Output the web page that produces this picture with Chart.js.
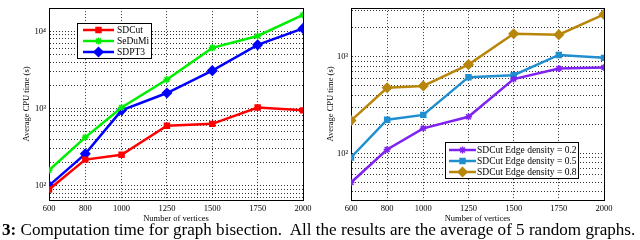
<!DOCTYPE html>
<html>
<head>
<meta charset="utf-8">
<script src="https://cdn.jsdelivr.net/npm/chart.js@4/dist/chart.umd.min.js"></script>
<style>
  body { margin: 0; background: #fff; width: 640px; height: 240px; overflow: hidden; position: relative; }
  .box { position: absolute; top: 0; width: 320px; height: 224px; }
  #caption {
    position: absolute; left: 2px; top: 220px; white-space: nowrap;
    font-family: "Liberation Serif", "DejaVu Serif", serif; font-size: 17.1px; color: #000;
  }
</style>
</head>
<body>
<div class="box" style="left:0"><canvas id="leftChart"></canvas></div>
<div class="box" style="left:320px"><canvas id="rightChart"></canvas></div>
<div id="caption"><b>3:</b> Computation time for graph bisection.&nbsp; All the results are the average of 5 random graphs.</div>
<script>
// vertices (x axis)
const vertices = [600, 800, 1000, 1250, 1500, 1750, 2000];
const xTicks = [600, 800, 1000, 1250, 1500, 1750, 2000];

// left: solvers
const sdcut = [89, 217, 251, 596, 631, 1030, 944];
const sedumi = [158, 422, 1030, 2370, 6100, 8700, 16300];
const sdpt3 = [100, 258, 944, 1585, 3090, 6680, 10900];

// right: SDCut with different edge density
const dens02 = [50, 110, 182, 240, 589, 759, 776];
const dens05 = [91, 224, 251, 617, 646, 1047, 977];
const dens08 = [219, 479, 501, 832, 1738, 1698, 2754];

const leftDecades = [100, 1000, 10000];
const rightDecades = [100, 1000];

const serif = "'Liberation Serif', 'DejaVu Serif', serif";
const sup = { "1": "\u00b9", "2": "\u00b2", "3": "\u00b3", "4": "\u2074" };

// minor grid positions 1..9 x 10^n inside [min, max]
function logTicks(min, max) {
  const out = [];
  for (let e = 0; e <= 5; e++) {
    for (let k = 1; k <= 9; k++) {
      const v = k * Math.pow(10, e);
      if (v >= min && v <= max) out.push(v);
    }
  }
  return out;
}

function makeSet(label, data, color, style, radius) {
  return {
    label: label,
    data: data.map((y, i) => ({ x: vertices[i], y: y })),
    borderColor: color,
    backgroundColor: color,
    borderWidth: 2.5,
    pointStyle: style,
    pointRadius: radius,
    pointBorderWidth: 1.5,
    pointBorderColor: color,
    pointBackgroundColor: color,
    tension: 0,
  };
}

// legend box drawn inside the plot
const boxLegend = {
  id: "boxLegend",
  afterDatasetsDraw(chart, args, opts) {
    const ctx = chart.ctx;
    ctx.save();
    ctx.fillStyle = "#fff";
    ctx.fillRect(opts.x, opts.y, opts.w, opts.h);
    ctx.strokeStyle = "#000";
    ctx.lineWidth = 1;
    ctx.strokeRect(opts.x + 0.5, opts.y + 0.5, opts.w, opts.h);
    ctx.font = opts.fontSize + "px " + serif;
    ctx.textBaseline = "middle";
    chart.data.datasets.forEach((ds, i) => {
      const yy = opts.y + opts.first + i * opts.step;
      ctx.strokeStyle = ds.borderColor;
      ctx.lineWidth = ds.borderWidth;
      ctx.beginPath();
      ctx.moveTo(opts.x + opts.lx0, yy);
      ctx.lineTo(opts.x + opts.lx1, yy);
      ctx.stroke();
      ctx.fillStyle = ds.borderColor;
      ctx.lineWidth = 1.5;
      Chart.helpers.drawPoint(ctx, { pointStyle: ds.pointStyle, radius: ds.pointRadius, rotation: 0, borderWidth: 1.5 },
        opts.x + (opts.lx0 + opts.lx1) / 2, yy);
      ctx.fillStyle = "#000";
      ctx.fillText(ds.label, opts.x + opts.tx, yy + 0.5);
    });
    ctx.restore();
  },
};

const frame = {
  id: "frame",
  beforeDatasetsDraw(chart) {
    const a = chart.chartArea;
    const ctx = chart.ctx;
    ctx.save();
    ctx.strokeStyle = "#000";
    ctx.lineWidth = 1;
    ctx.strokeRect(Math.round(a.left) + 0.5, Math.round(a.top) + 0.5, Math.round(a.right - a.left), Math.round(a.bottom - a.top));
    ctx.restore();
  },
};

function buildChart(id, datasets, yMin, yMax, decades, yWidth, titleShift, padRight, legendOpts) {
  const gridStyle = { color: "rgba(0,0,0,0.8)", lineWidth: 1, tickLength: 0 };
  const borderStyle = { display: true, color: "#000", width: 1, dash: [1, 2] };
  return new Chart(document.getElementById(id), {
    type: "line",
    data: { datasets: datasets },
    plugins: [frame, boxLegend],
    options: {
      responsive: true,
      maintainAspectRatio: false,
      animation: false,
      layout: { padding: { top: 2, right: padRight, left: 0, bottom: 0 } },
      plugins: {
        legend: { display: false },
        tooltip: { enabled: false },
        boxLegend: legendOpts,
      },
      scales: {
        x: {
          type: "linear",
          min: 600,
          max: 2000,
          afterBuildTicks: (s) => { s.ticks = xTicks.map((v) => ({ value: v })); },
          afterFit: (s) => { s.height = 24; },
          grid: gridStyle,
          border: borderStyle,
          ticks: {
            color: "#000", font: { family: serif, size: 8.5 }, padding: 4, maxRotation: 0,
            callback: (v) => String(v),
          },
          title: { display: true, text: "Number of vertices", color: "#000", font: { family: serif, size: 8.5 }, padding: 0 },
        },
        y: {
          type: "logarithmic",
          min: yMin,
          max: yMax,
          afterBuildTicks: (s) => { s.ticks = logTicks(yMin, yMax).map((v) => ({ value: v })); },
          afterFit: (s) => { s.width = yWidth; },
          grid: gridStyle,
          border: borderStyle,
          ticks: {
            color: "#000",
            font: { family: serif, size: 8.5 },
            padding: 3,
            autoSkip: false,
            callback: (v) => {
              if (decades.indexOf(v) < 0) return "";
              return "10" + sup[String(Math.round(Math.log10(v)))];
            },
          },
          title: {
            display: true, text: "Average CPU time (s)", color: "#000",
            font: { family: serif, size: 8.5 }, padding: { top: titleShift, bottom: 0 },
          },
        },
      },
    },
  });
}

buildChart("leftChart", [
  makeSet("SDCut", sdcut, "#ff0000", "rect", 3.5),
  makeSet("SeDuMi", sedumi, "#00ee00", "star", 3.5),
  makeSet("SDPT3", sdpt3, "#0000ff", "rectRot", 4.5),
], 65, 20000, leftDecades, 49, 22, 17,
  { x: 77, y: 23, w: 74, h: 35, first: 7, step: 11, lx0: 6, lx1: 37, tx: 40, fontSize: 9.5 });

buildChart("rightChart", [
  makeSet("SDCut Edge density = 0.2", dens02, "#7f22f2", "star", 3.5),
  makeSet("SDCut Edge density = 0.5", dens05, "#1f8fd0", "rect", 3.5),
  makeSet("SDCut Edge density = 0.8", dens08, "#b8860b", "rectRot", 4.5),
], 33, 3200, rightDecades, 31, 6, 36,
  { x: 125, y: 142, w: 133, h: 36, first: 8, step: 11, lx0: 4, lx1: 31, tx: 32, fontSize: 9.5 });
</script>
</body>
</html>
